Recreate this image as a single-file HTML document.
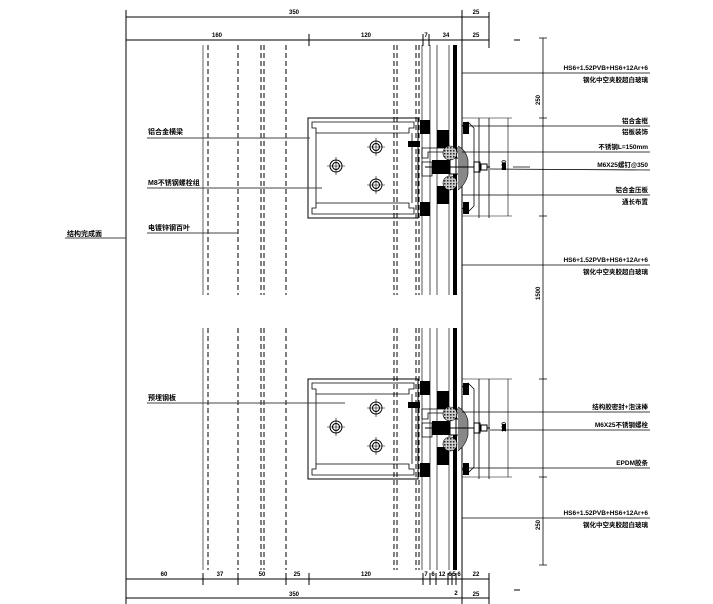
<!DOCTYPE html>
<html><head><meta charset="utf-8"><style>
html,body{margin:0;padding:0;background:#fff;}
svg{display:block;}
text{font-family:"Liberation Sans","Noto Sans CJK SC",sans-serif;font-weight:bold;fill:#000;}
</style></head><body>
<svg width="713" height="604" viewBox="0 0 713 604" xmlns="http://www.w3.org/2000/svg">
<defs>
<pattern id="h" width="3" height="3" patternUnits="userSpaceOnUse"><rect width="3" height="3" fill="#ccc"/><rect width="1.5" height="1.5" fill="#222"/></pattern>
<g id="joint">
 <!-- bracket box -->
 <rect x="308" y="118" width="110" height="100" fill="none" stroke="#000" stroke-width="1"/>
 <path d="M312 122 H414 V128 H409 V133 H316 V128 H312 Z M312 214 H414 V208 H409 V203 H316 V208 H312 Z" fill="none" stroke="#000" stroke-width="0.8"/>
 <line x1="316" y1="133" x2="316" y2="203" stroke="#000" stroke-width="0.8"/>
 <line x1="412" y1="133" x2="412" y2="203" stroke="#000" stroke-width="0.8"/>
 <g fill="none" stroke="#000" stroke-width="1">
  <circle cx="376" cy="147" r="6"/><circle cx="376" cy="147" r="3.5"/>
  <circle cx="336" cy="166" r="6"/><circle cx="336" cy="166" r="3.5"/>
  <circle cx="376" cy="185" r="6"/><circle cx="376" cy="185" r="3.5"/>
  <path d="M367 147h18M376 138v18M327 166h18M336 157v18M367 185h18M376 176v18" stroke-width="0.6"/>
 </g>
 <!-- joint -->
 <rect x="408" y="141" width="12" height="6" fill="#000"/>
 <rect x="420" y="120" width="10" height="14" fill="#000"/>
 <rect x="420" y="202" width="10" height="14" fill="#000"/>
 <rect x="437" y="130" width="12" height="18" fill="#000"/>
 <rect x="437" y="186" width="12" height="18" fill="#000"/>
 <path d="M422 148 H458 V152 H428 V158 H422 Z" fill="none" stroke="#000" stroke-width="0.8"/>
 <path d="M422 162 H432 V176 H422 Z" fill="none" stroke="#000" stroke-width="0.8"/>
 <rect x="432" y="160" width="26" height="14" fill="#000"/>
 <rect x="450" y="158" width="12" height="16" fill="#fff" stroke="#000" stroke-width="1"/>
 <line x1="456" y1="158" x2="456" y2="174" stroke="#000"/>
 <circle cx="450" cy="153" r="7" fill="url(#h)" stroke="#000" stroke-width="0.6"/>
 <circle cx="450" cy="183" r="7" fill="url(#h)" stroke="#000" stroke-width="0.6"/>
 <path d="M458 146 Q466 150 468 160 V174 Q466 184 458 190" fill="#888" stroke="#000" stroke-width="0.6"/>
 <line x1="425" y1="167" x2="490" y2="167" stroke="#000" stroke-width="1"/>
 <rect x="474" y="162" width="6" height="10" fill="#fff" stroke="#000"/>
 <rect x="481" y="164" width="6" height="6" fill="#fff" stroke="#000"/>
 <rect x="502" y="163" width="4" height="7" fill="#000"/>
 <path d="M462 126 L468 122 L474 128 V206 L468 212 L462 208" fill="none" stroke="#000" stroke-width="0.8"/>
 <rect x="463" y="122" width="6" height="12" fill="#000"/>
 <rect x="463" y="202" width="6" height="12" fill="#000"/>
 <line x1="479" y1="118" x2="479" y2="218" stroke="#000" stroke-width="0.8"/>
 <line x1="489" y1="118" x2="489" y2="218" stroke="#000" stroke-width="0.8"/>
 <line x1="462" y1="118" x2="512" y2="118" stroke="#000" stroke-width="0.6"/>
 <line x1="462" y1="216" x2="512" y2="216" stroke="#000" stroke-width="0.6"/>
 <line x1="508" y1="118" x2="508" y2="216" stroke="#000" stroke-width="0.6"/>
</g>
</defs>

<!-- top dims -->
<g stroke="#000" stroke-width="1">
 <line x1="126" y1="10" x2="126" y2="604"/>
 <line x1="126" y1="17" x2="489" y2="17"/>
 <line x1="126" y1="40" x2="489" y2="40"/>
 <line x1="489" y1="12" x2="489" y2="48"/>
 <line x1="309" y1="34" x2="309" y2="46"/>
 <line x1="423" y1="34" x2="423" y2="46"/>
 <line x1="429" y1="34" x2="429" y2="46"/>
 <line x1="462" y1="10" x2="462" y2="604"/>
 <line x1="514" y1="40" x2="520" y2="40"/>
 <!-- bottom dims -->
 <line x1="126" y1="579" x2="489" y2="579"/>
 <line x1="126" y1="598" x2="489" y2="598"/>
 <line x1="489" y1="573" x2="489" y2="604"/>
 <path d="M203 573v12M238 573v12M286 573v12M309 573v12M423 573v12M430 573v12M436 573v12M448 573v12M452 573v12M456 573v12"/>
 <line x1="514" y1="590" x2="520" y2="590"/>
</g>
<g font-size="6" text-anchor="middle">
 <text x="294" y="14">350</text><text x="476" y="14">25</text>
 <text x="217" y="37">160</text><text x="366" y="37">120</text><text x="426" y="37">7</text><text x="446" y="37">34</text><text x="476" y="37">25</text>
 <text x="164" y="576">60</text><text x="220" y="576">37</text><text x="262" y="576">50</text><text x="297" y="576">25</text><text x="366" y="576">120</text>
 <text x="426" y="576">7</text><text x="433" y="576">6</text><text x="442" y="576">12</text><text x="450" y="576">6</text><text x="454" y="576">5</text><text x="459" y="576">6</text><text x="476" y="576">22</text>
 <text x="294" y="596">350</text><text x="456" y="595">2</text><text x="476" y="596">25</text>
</g>

<!-- vertical section lines -->
<g stroke="#000" stroke-width="1" fill="none">
 <path d="M203 45V295M203 328V570" stroke="#666"/>
 <path d="M208 45V295M208 328V570M238 45V295M238 328V570M261 45V295M261 328V570M264 45V295M264 328V570M286 45V295M286 328V570M394 45V295M394 328V570M397 45V295M397 328V570M416 45V295M416 328V570M419 45V295M419 328V570" stroke-dasharray="5,3"/>
 <path d="M422 45V295M422 328V570M430 45V295M430 328V570M437 45V295M437 328V570M449 45V295M449 328V570" stroke="#555"/>
 <path d="M455 45V295M455 328V570" stroke-width="4"/>
</g>

<use href="#joint"/>
<use href="#joint" transform="translate(0,261)"/>

<!-- left labels -->
<g stroke="#444" stroke-width="1">
 <line x1="147" y1="138" x2="310" y2="138"/>
 <line x1="147" y1="188" x2="322" y2="188"/>
 <line x1="147" y1="233" x2="238" y2="233"/>
 <line x1="65" y1="238" x2="126" y2="238"/>
 <line x1="147" y1="403" x2="345" y2="403"/>
</g>
<g font-size="7">
 <text x="148" y="134">铝合金横梁</text>
 <text x="148" y="185">M8不锈钢螺栓组</text>
 <text x="148" y="230">电镀锌钢百叶</text>
 <text x="67" y="236">结构完成面</text>
 <text x="148" y="400">预埋钢板</text>
</g>

<!-- right dimension line -->
<g stroke="#000" stroke-width="0.8">
 <line x1="543" y1="38" x2="543" y2="565"/>
 <path d="M539 38h8M539 118h8M539 216h8M539 379h8M539 477h8M539 565h8"/>
 <line x1="513" y1="167" x2="530" y2="167"/>
</g>
<g font-size="6">
 <text transform="translate(540,105) rotate(-90)">250</text>
 <text transform="translate(540,300) rotate(-90)">1500</text>
 <text transform="translate(540,530) rotate(-90)">250</text>
 <text transform="translate(506,170) rotate(-90)">100</text>
 <text transform="translate(506,432) rotate(-90)">100</text>
</g>

<!-- right labels -->
<g stroke="#000" stroke-width="0.8">
 <line x1="462" y1="73" x2="650" y2="73"/>
 <line x1="462" y1="126" x2="650" y2="126"/>
 <line x1="462" y1="152" x2="650" y2="152"/>
 <line x1="490" y1="169" x2="650" y2="170"/>
 <line x1="462" y1="195" x2="650" y2="195"/>
 <line x1="462" y1="265" x2="650" y2="265"/>
 <line x1="462" y1="412" x2="650" y2="412"/>
 <line x1="490" y1="430" x2="650" y2="430"/>
 <line x1="462" y1="468" x2="650" y2="468"/>
 <line x1="462" y1="518" x2="650" y2="518"/>
</g>
<g font-size="6.5" text-anchor="end">
 <text x="648" y="70">HS6+1.52PVB+HS6+12Ar+6</text>
 <text x="648" y="82">钢化中空夹胶超白玻璃</text>
 <text x="648" y="123">铝合金框</text>
 <text x="648" y="134">铝板装饰</text>
 <text x="648" y="149">不锈钢L=150mm</text>
 <text x="648" y="167">M6X25螺钉@350</text>
 <text x="648" y="192">铝合金压板</text>
 <text x="648" y="204">通长布置</text>
 <text x="648" y="262">HS6+1.52PVB+HS6+12Ar+6</text>
 <text x="648" y="274">钢化中空夹胶超白玻璃</text>
 <text x="648" y="409">结构胶密封+泡沫棒</text>
 <text x="648" y="427">M6X25不锈钢螺栓</text>
 <text x="648" y="465">EPDM胶条</text>
 <text x="648" y="515">HS6+1.52PVB+HS6+12Ar+6</text>
 <text x="648" y="527">钢化中空夹胶超白玻璃</text>
</g>
</svg>
</body></html>
